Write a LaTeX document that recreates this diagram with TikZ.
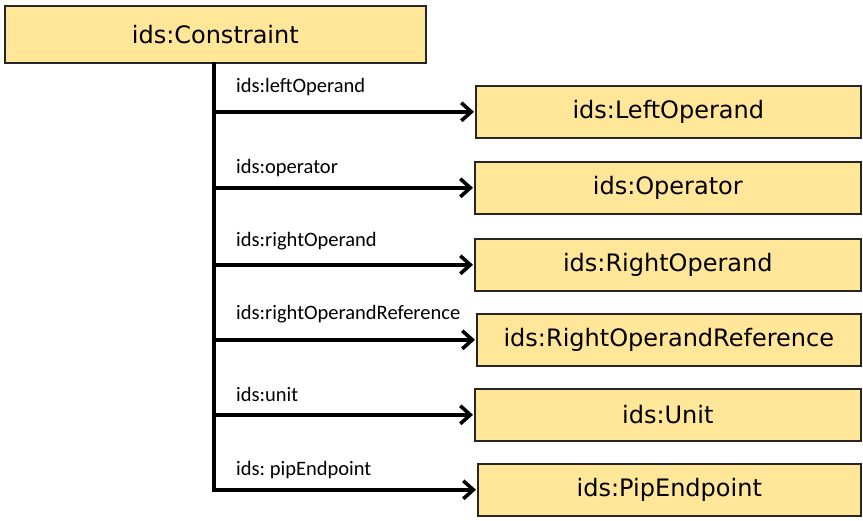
\documentclass[tikz,border=0pt]{standalone}
\usepackage{fontspec}
\setmainfont{DejaVu Sans}
\newfontfamily\labelfont{Carlito}
\usetikzlibrary{arrows.meta}
\definecolor{boxfill}{HTML}{FFE699}
\definecolor{boxline}{HTML}{262626}
\tikzset{
  classbox/.style={draw=boxline, line width=1.6pt, fill=boxfill, inner sep=0pt,
    anchor=north west, font=\fontsize{24}{28}\selectfont},
  proplink/.style={line width=3.8pt, -{Straight Barb[length=10pt,width=18pt,line width=3.6pt]}},
  proplabel/.style={anchor=west, inner sep=0pt, font=\labelfont\fontsize{20.5}{24}\selectfont}
}
\begin{document}
\begin{tikzpicture}[x=1pt,y=-1pt]
\useasboundingbox (0,0) rectangle (863,520);
% source class
\node[classbox, minimum width=421pt, minimum height=57pt] (c) at (4,5) {ids:Constraint};
% target classes
\foreach \n/\t/\x/\y/\w in {
  lo/ids:LeftOperand/475/85/385,
  op/ids:Operator/474/161/386,
  ro/ids:RightOperand/474/238/386,
  rr/ids:RightOperandReference/476/313/384,
  un/ids:Unit/474/388/386,
  pe/ids:PipEndpoint/477/463/383}
  \node[classbox, minimum width=\w pt, minimum height=52pt] (\n) at (\x,\y) {\t};
% trunk
\coordinate (top) at (214,62);
\coordinate (bot) at (214,490);
\draw[line width=3.8pt] (top) -- ([yshift=-1.9pt]bot);
% branches
\foreach \n/\l/\ly in {
  lo/ids:leftOperand/87,
  op/ids:operator/168,
  ro/ids:rightOperand/241,
  rr/ids:rightOperandReference/314,
  un/ids:unit/394,
  pe/ids:\ pipEndpoint/470}{
  \draw[proplink] ([xshift=-1.9pt]top |- \n.west) -- ([xshift=-1pt]\n.west);
  \node[proplabel] (l\n) at (236,\ly) {\l};
}
\end{tikzpicture}
\end{document}
